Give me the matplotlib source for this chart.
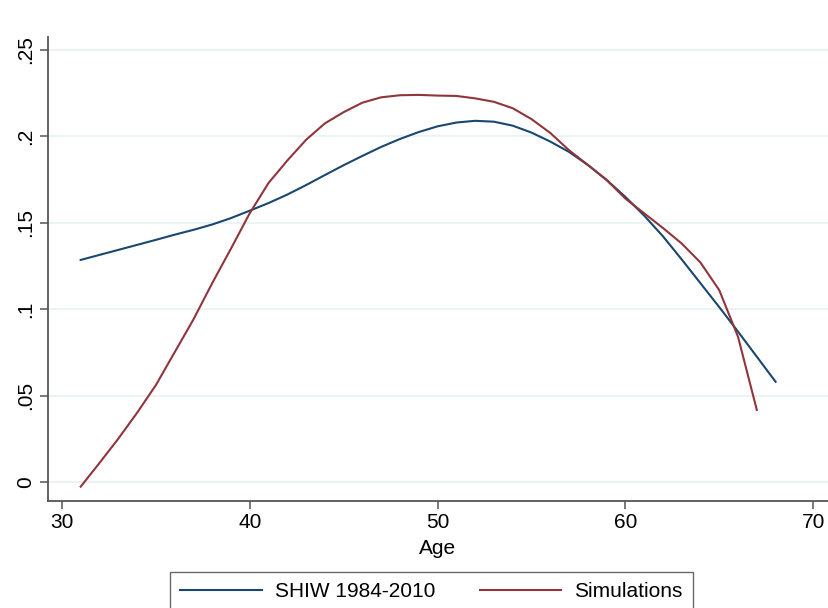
import matplotlib
matplotlib.use('Agg')
import matplotlib.pyplot as plt

plt.rcParams['font.family'] = ['Liberation Sans', 'DejaVu Sans']

# age profiles by age, 31-68
ages_shiw = list(range(31, 69))
shiw = [0.1285, 0.1314, 0.1343, 0.1372, 0.1401, 0.1431, 0.1459, 0.149, 0.1527, 0.157,
        0.1614, 0.1663, 0.1718, 0.1776, 0.1833, 0.1887, 0.1939, 0.1985, 0.2025, 0.2058,
        0.208, 0.209, 0.2085, 0.2062, 0.2022, 0.197, 0.191, 0.1835, 0.1748, 0.165,
        0.1542, 0.1422, 0.1288, 0.115, 0.1012, 0.087, 0.0725, 0.058]

ages_sim = list(range(31, 68))
sim = [-0.0027, 0.011, 0.025, 0.040, 0.056, 0.075, 0.094, 0.115, 0.135, 0.1555,
       0.173, 0.186, 0.198, 0.2075, 0.214, 0.2195, 0.2226, 0.2238, 0.224, 0.2236,
       0.2234, 0.222, 0.220, 0.2163, 0.210, 0.202, 0.192, 0.1835, 0.1748, 0.164,
       0.1555, 0.147, 0.138, 0.127, 0.111, 0.084, 0.0417]

xticks = [30, 40, 50, 60, 70]
yticks = [0, 0.05, 0.1, 0.15, 0.2, 0.25]
ytick_labels = ['0', '.05', '.1', '.15', '.2', '.25']

fig = plt.figure(figsize=(8.29, 6.08), dpi=100)
ax = fig.add_axes([48 / 829, 107 / 608, 780 / 829, 464 / 608])

ax.plot(ages_shiw, shiw, color='#1a476f', lw=1.5, label='SHIW 1984-2010')
ax.plot(ages_sim, sim, color='#90353b', lw=1.5, label='Simulations')

ax.set_xlim(29.26, 70.79)
ax.set_ylim(-0.011, 0.2575)
ax.set_xticks(xticks)
ax.set_yticks(yticks)
ax.set_yticklabels(ytick_labels, rotation=90, va='center')
ax.yaxis.grid(True, color='#eaf2f3', lw=1.3)
ax.set_axisbelow(True)
ax.tick_params(axis='both', labelsize=15, length=5.5, width=1.1, color='#555555', pad=3.5)
for side in ['top', 'right']:
    ax.spines[side].set_visible(False)
for side in ['left', 'bottom']:
    ax.spines[side].set_color('#555555')
    ax.spines[side].set_linewidth(1.3)
ax.set_xlabel('Age', fontsize=15, labelpad=5)

leg = fig.legend(loc='upper left', bbox_to_anchor=(170 / 829, 1 - 572 / 608),
                 ncol=2, fontsize=15, frameon=True, fancybox=False,
                 handlelength=3.9, handletextpad=0.62, columnspacing=2.15,
                 borderpad=0.5, borderaxespad=0)
leg.get_frame().set_edgecolor('#444444')
leg.get_frame().set_linewidth(1.0)

fig.savefig('out.png', dpi=100)
